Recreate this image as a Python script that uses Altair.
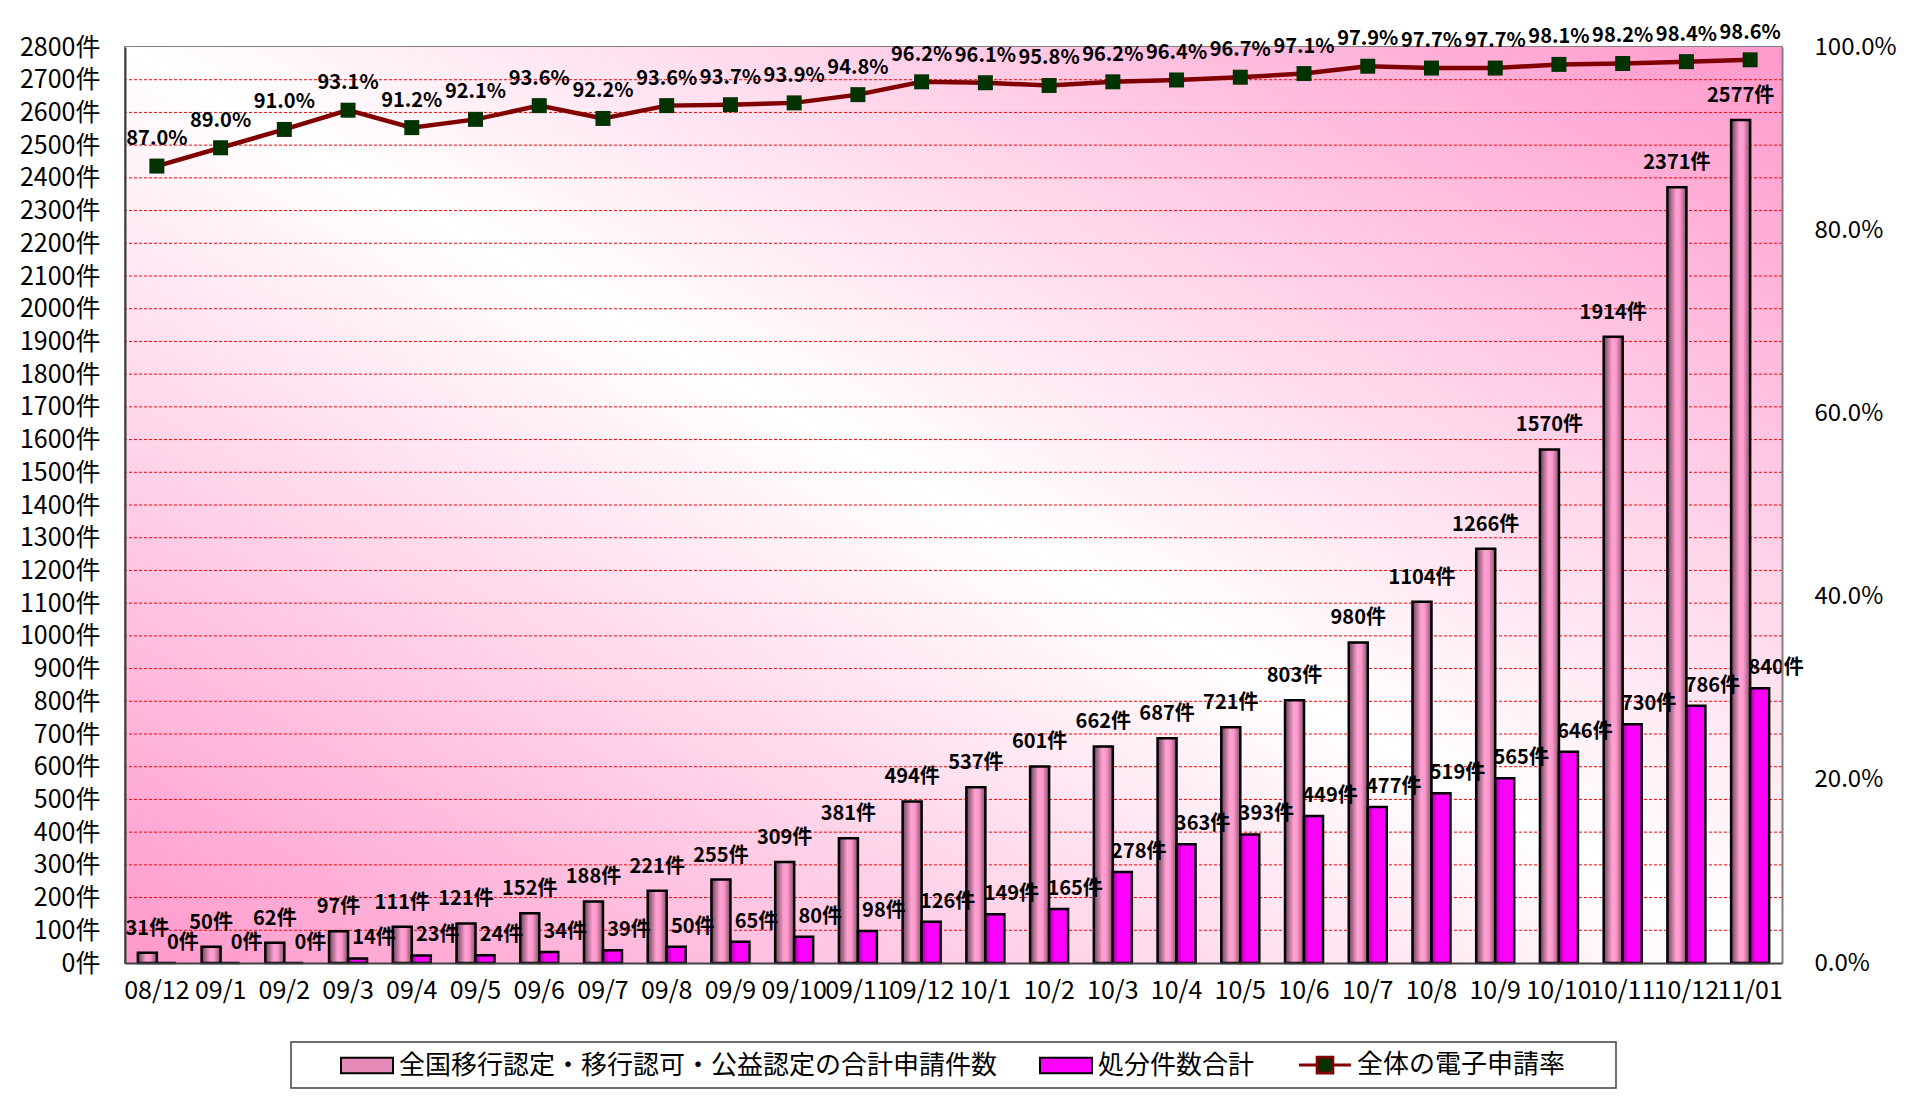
import altair as alt
import pandas as pd

months = ["08/12", "09/1", "09/2", "09/3", "09/4", "09/5", "09/6", "09/7", "09/8", "09/9",
          "09/10", "09/11", "09/12", "10/1", "10/2", "10/3", "10/4", "10/5", "10/6", "10/7",
          "10/8", "10/9", "10/10", "10/11", "10/12", "11/01"]
applications = [31, 50, 62, 97, 111, 121, 152, 188, 221, 255, 309, 381, 494, 537, 601, 662,
                687, 721, 803, 980, 1104, 1266, 1570, 1914, 2371, 2577]
processed = [0, 0, 0, 14, 23, 24, 34, 39, 50, 65, 80, 98, 126, 149, 165, 278, 363, 393, 449,
             477, 519, 565, 646, 730, 786, 840]
rate = [87.0, 89.0, 91.0, 93.1, 91.2, 92.1, 93.6, 92.2, 93.6, 93.7, 93.9, 94.8, 96.2, 96.1,
        95.8, 96.2, 96.4, 96.7, 97.1, 97.9, 97.7, 97.7, 98.1, 98.2, 98.4, 98.6]
left_ticks = [0, 100, 200, 300, 400, 500, 600, 700, 800, 900, 1000, 1100, 1200, 1300, 1400,
              1500, 1600, 1700, 1800, 1900, 2000, 2100, 2200, 2300, 2400, 2500, 2600, 2700, 2800]
right_ticks = [0, 20, 40, 60, 80, 100]
series = ["全国移行認定・移行認可・公益認定の合計申請件数", "処分件数合計", "全体の電子申請率"]

W, H = 1657, 916
FONT = "Noto Sans CJK JP"

df = pd.DataFrame({"month": months, "apps": applications, "proc": processed, "rate": rate})

pink_grad = {"gradient": "linear", "x1": 0, "y1": 0, "x2": 1, "y2": 0,
             "stops": [{"offset": 0, "color": "#6a3f58"},
                       {"offset": 0.45, "color": "#ffa2d2"},
                       {"offset": 0.65, "color": "#ff99cc"},
                       {"offset": 1, "color": "#84506c"}]}
mag_grad = {"gradient": "linear", "x1": 0, "y1": 0, "x2": 1, "y2": 0,
            "stops": [{"offset": 0, "color": "#a000a0"},
                      {"offset": 0.3, "color": "#ff00ff"},
                      {"offset": 1, "color": "#ff00ff"}]}
bg_grad = {"gradient": "linear", "x1": 0, "y1": 1, "x2": 1, "y2": 0,
           "stops": [{"offset": 0, "color": "#ff99cc"},
                     {"offset": 0.5, "color": "#ffffff"},
                     {"offset": 1, "color": "#ff99cc"}]}

x_axis = alt.Axis(title=None, labelFont=FONT, labelFontSize=25, labelColor="black",
                  labelPadding=15, ticks=False, tickSize=0, domainColor="#404040",
                  domainWidth=2, labelOverlap=False, labelAngle=0, zindex=1)
x_enc = alt.X("month:N", sort=months, scale=alt.Scale(paddingInner=0, paddingOuter=0),
              axis=x_axis)

left_axis = alt.Axis(title=None, values=left_ticks, labelExpr="datum.value + '件'",
                     labelFont=FONT, labelFontSize=25, labelColor="black", labelPadding=25,
                     ticks=False, tickSize=0, grid=False, domainColor="#404040",
                     domainWidth=2, labelOverlap=False, zindex=1)
yscale = alt.Scale(domain=[0, 2800], nice=False, zero=True)

right_axis = alt.Axis(orient="right", title=None, values=right_ticks,
                      labelExpr="format(datum.value, '.1f') + '%'", labelFont=FONT,
                      labelFontSize=24, labelColor="black", labelPadding=32, ticks=False,
                      tickSize=0, grid=False, domainColor="#808080", domainWidth=2,
                      labelOverlap=False, zindex=1)
rscale = alt.Scale(domain=[0, 100], nice=False, zero=True)

base = alt.Chart(df)

bg = alt.Chart(alt.Data(values=[{"a": 1}])).mark_rect(fill=bg_grad).encode(
    x=alt.value(0), x2=alt.value(W), y=alt.value(0), y2=alt.value(H))

grid = alt.Chart(pd.DataFrame({"g": left_ticks[1:-1]})).mark_rule(
    color="#ff0000", strokeWidth=1, strokeDash=[3, 2]).encode(
    y=alt.Y("g:Q", scale=yscale, axis=left_axis))

bars_a = base.mark_bar(width=19, xOffset=-9.5, fill=pink_grad, stroke="black",
                       strokeWidth=2.5).encode(
    x=x_enc, y=alt.Y("apps:Q", scale=yscale, axis=left_axis))
bars_p = base.mark_bar(width=19, xOffset=9.5, fill=mag_grad, stroke="black",
                       strokeWidth=2.5).encode(
    x=x_enc, y=alt.Y("proc:Q", scale=yscale, axis=left_axis))

lab_a = base.transform_calculate(t="datum.apps + '件'").mark_text(
    font=FONT, fontWeight="bold", fontSize=20, dx=-9.5, dy=-24, baseline="middle",
    color="black").encode(x=x_enc, y=alt.Y("apps:Q", scale=yscale, axis=left_axis),
                          text="t:N")
lab_p = base.transform_calculate(t="datum.proc + '件'").mark_text(
    font=FONT, fontWeight="bold", fontSize=20, dx=26, dy=-20, baseline="middle",
    color="black").encode(x=x_enc, y=alt.Y("proc:Q", scale=yscale, axis=left_axis),
                          text="t:N")

rect_path = "M-2,-0.6H2V0.6H-2Z"
line_path = "M-2,0H-0.6M0.6,0H2M-0.6,-0.6H0.6V0.6H-0.6Z"
is_line = "datum.value === '" + series[2] + "'"

legend = alt.Legend(
    title=None, orient="none", legendX=229, legendY=1005, direction="horizontal",
    columns=3, labelFont=FONT, labelFontSize=26, labelColor="black", labelLimit=2000,
    symbolSize=676, labelOffset=19, columnPadding=38, padding=0, symbolOpacity=1,
    symbolType={"expr": is_line + " ? '" + line_path + "' : '" + rect_path + "'"},
    symbolStrokeColor={"expr": is_line + " ? '#800000' : '#000000'"},
    symbolStrokeWidth={"expr": is_line + " ? 3 : 2"},
)

leg_box = alt.Chart(alt.Data(values=[{"a": 1}])).mark_rect(
    fill="white", stroke="#404040", strokeWidth=1.5).encode(
    x=alt.value(166), x2=alt.value(1491), y=alt.value(995), y2=alt.value(1041))

leg_layer = alt.Chart(pd.DataFrame({"series": series})).mark_point(
    filled=True, opacity=0).encode(
    x=alt.value(0), y=alt.value(0),
    fill=alt.Fill("series:N", scale=alt.Scale(domain=series,
                                              range=["#e58ab8", "#ff00ff", "#003300"]),
                  legend=legend))

left = alt.layer(bg, grid, bars_a, bars_p, lab_a, lab_p, leg_box, leg_layer)

line = base.mark_line(color="#800000", strokeWidth=4.5).encode(
    x=x_enc, y=alt.Y("rate:Q", scale=rscale, axis=right_axis))
pts = base.mark_point(shape="square", filled=True, fill="#003300", size=225,
                      opacity=1).encode(
    x=x_enc, y=alt.Y("rate:Q", scale=rscale, axis=right_axis))
lab_r = base.transform_calculate(t="format(datum.rate, '.1f') + '%'").mark_text(
    font=FONT, fontWeight="bold", fontSize=20, dy=-27, baseline="middle",
    color="black").encode(x=x_enc, y=alt.Y("rate:Q", scale=rscale, axis=right_axis),
                          text="t:N")
right = alt.layer(line, pts, lab_r)

chart = alt.layer(left, right).resolve_scale(y="independent").properties(
    width=W, height=H,
    padding={"left": 117, "top": 39, "right": 117, "bottom": 126},
    autosize=alt.AutoSizeParams(type="none"),
).configure_view(stroke="#808080", strokeWidth=2)

chart.save("out.html", embed_options={"renderer": "svg", "actions": False})
